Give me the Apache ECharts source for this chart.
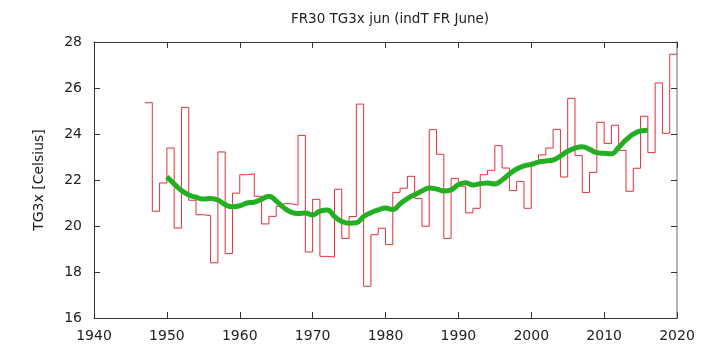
<!DOCTYPE html>
<html><head><meta charset="utf-8">
<script src="https://cdn.jsdelivr.net/npm/echarts@6/dist/echarts.min.js"></script>
<style>html,body{margin:0;padding:0;background:#fff}#c{width:717px;height:347px}</style>
</head><body><div id="c"></div>
<script>
const title = 'FR30 TG3x jun (indT FR June)';
const yName = 'TG3x [Celsius]';
const firstYear = 1947;
const yearlyValues = [25.36,20.64,21.87,23.39,19.91,25.16,21.12,20.49,20.45,18.40,
  23.22,18.80,21.43,22.23,22.27,21.29,20.09,20.42,20.86,20.97,
  20.91,23.94,18.87,21.16,18.68,18.65,21.60,19.46,20.41,25.30,
  17.38,19.62,19.90,19.19,21.46,21.64,22.16,21.20,19.99,24.19,
  23.12,19.46,22.07,21.73,20.57,20.77,22.23,22.42,23.49,22.52,
  21.54,21.94,20.77,22.77,23.09,23.39,24.20,22.13,25.55,23.06,
  21.46,22.33,24.51,23.59,24.38,23.29,21.51,22.51,24.77,23.19,
  26.22,24.03,27.47];
const smoothFirstYear = 1950;
const smoothValues = [22.14,21.83,21.54,21.35,21.25,21.17,21.20,21.13,20.93,20.84,
  20.88,21.00,21.04,21.16,21.29,21.09,20.81,20.61,20.54,20.57,
  20.48,20.65,20.70,20.41,20.20,20.12,20.14,20.41,20.58,20.70,
  20.78,20.72,20.96,21.19,21.36,21.52,21.65,21.61,21.52,21.57,
  21.80,21.88,21.78,21.84,21.87,21.83,22.00,22.26,22.48,22.61,
  22.68,22.78,22.83,22.87,23.04,23.25,23.39,23.45,23.33,23.19,
  23.16,23.14,23.42,23.74,23.99,24.13,24.16];
const xTicks = {min:1940, max:2020, interval:10};
const yTicks = {min:16, max:28, interval:2};

const stepData = yearlyValues.map((v,i)=>[firstYear+i, v]);
stepData.push([firstYear+yearlyValues.length, yearlyValues[yearlyValues.length-1]]);
const smoothData = smoothValues.map((v,i)=>[smoothFirstYear+i, v]);

const font = 'DejaVu Sans';
const axisLine = {show:true, lineStyle:{color:'#333', width:1}};
const chart = echarts.init(document.getElementById('c'), null, {renderer:'canvas'});
chart.setOption({
  animation:false,
  title:{text:title, left:385, textAlign:'center', top:7,
    textStyle:{fontFamily:font, fontSize:13.5, fontWeight:'normal', color:'#222'}},
  grid:{left:94, right:40, top:42, bottom:29},
  xAxis:[
    {type:'value', min:xTicks.min, max:xTicks.max, interval:xTicks.interval,
     axisLine:axisLine, axisTick:{inside:true, length:6, lineStyle:{color:'#333'}},
     axisLabel:{fontFamily:font, fontSize:14, color:'#222', margin:11, formatter:v=>String(v)},
     splitLine:{show:false}},
    {type:'value', position:'top', min:xTicks.min, max:xTicks.max, interval:xTicks.interval,
     axisLine:axisLine, axisTick:{inside:true, length:6, lineStyle:{color:'#333'}},
     axisLabel:{show:false}, splitLine:{show:false}}
  ],
  yAxis:[
    {type:'value', min:yTicks.min, max:yTicks.max, interval:yTicks.interval,
     name:yName, nameLocation:'middle', nameGap:48, nameRotate:90,
     nameTextStyle:{fontFamily:font, fontSize:14, color:'#222'},
     axisLine:axisLine, axisTick:{inside:true, length:6, lineStyle:{color:'#333'}},
     axisLabel:{fontFamily:font, fontSize:14, color:'#222', margin:12},
     splitLine:{show:false}},
    {type:'value', position:'right', min:yTicks.min, max:yTicks.max, interval:yTicks.interval,
     axisLine:{show:true, lineStyle:{color:'#999', width:1.5}},
     axisTick:{inside:true, length:6, lineStyle:{color:'#333'}},
     axisLabel:{show:false}, splitLine:{show:false}}
  ],
  series:[
    {type:'line', step:'end', data:stepData, symbol:'none',
     lineStyle:{color:'#e0303a', width:1}, z:2},
    {type:'line', data:smoothData, symbol:'none', smooth:true,
     lineStyle:{color:'#22b022', width:5}, z:3}
  ]
});
</script></body></html>
